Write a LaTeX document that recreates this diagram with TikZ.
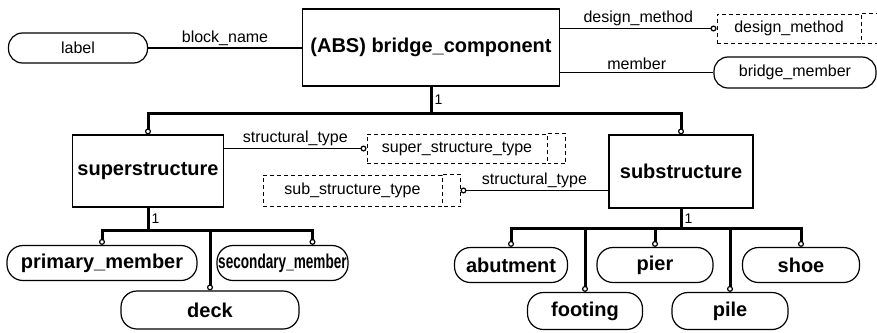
\documentclass[tikz,border=0pt]{standalone}
\usepackage{fontspec}
\setmainfont{Liberation Sans}
\usetikzlibrary{arrows.meta}

\tikzset{
  ring/.tip={Circle[open,length=6pt,width=6pt,line width=1.2pt]},
  entity/.style={draw,rectangle,line width=1.2pt,font=\fontsize{20}{23}\selectfont\bfseries},
  oval/.style={draw,rectangle,rounded corners=16pt,line width=1.2pt,inner xsep=2pt,minimum height=35pt,font=\fontsize{20}{23}\selectfont\bfseries},
  simple/.style={draw,rectangle,rounded corners=14pt,line width=1.2pt,minimum height=30pt,font=\fontsize{16}{18}\selectfont},
  deftype/.style={draw,dash pattern=on 4pt off 3pt,line width=1pt,minimum height=29pt,font=\fontsize{16}{18}\selectfont,
    append after command={\pgfextra{\draw[line width=1pt,dash pattern=on 4pt off 3pt]
      (\tikzlastnode.north east) -- ++(18pt,0) |- (\tikzlastnode.south east);}}},
  attr/.style={line width=1.1pt},
  isa/.style={line width=3pt},
  role/.style={font=\fontsize{16}{18}\selectfont,inner sep=2pt},
  card/.style={font=\fontsize{14}{16}\selectfont,inner sep=2pt}
}

\begin{document}
\begin{tikzpicture}[x=1pt,y=-1pt]
\useasboundingbox (0,0) rectangle (877,332);

% entities
\node[entity,minimum width=257pt,minimum height=77pt] (comp) at (431,47.5) {(ABS) bridge\_component};
\node[entity,minimum width=151pt,minimum height=72pt] (sup) at (148,171) {superstructure};
\node[entity,minimum width=144pt,minimum height=73pt] (subs) at (681,171.5) {substructure};

% simple types and defined types
\node[simple,minimum width=139pt] (lbl) at (78,48) {label};
\node[simple,minimum width=162pt,minimum height=31pt] (bmem) at (795,72.5) {bridge\_member};
\node[deftype,minimum width=144pt] (dmeth) at (789,28.5) {design\_method};
\node[deftype,minimum width=180pt] (sst) at (457,148.5) {super\_structure\_type};
\node[deftype,minimum width=179pt,minimum height=31pt] (sbt) at (352.5,190.5) {sub\_structure\_type};

% subtypes
\node[oval,minimum width=190pt] (prim) at (102,263) {primary\_member};
\node[oval,minimum width=131pt,inner xsep=0pt] (sec) at (282.5,263) {\scalebox{0.68}[1]{secondary\_member}};
\node[oval,minimum width=178pt,minimum height=38pt] (deck) at (210,310) {deck};
\node[oval,minimum width=113pt] (abut) at (511,265) {abutment};
\node[oval,minimum width=116pt] (pier) at (655,265) {pier};
\node[oval,minimum width=117pt] (shoe) at (801,265) {shoe};
\node[oval,minimum width=115pt,minimum height=37pt] (foot) at (585,311) {footing};
\node[oval,minimum width=116pt,minimum height=37pt] (pile) at (730,311) {pile};

% attributes
\draw[attr] (lbl.east) -- node[role,above] (bname) {block\_name} (lbl.east -| comp.west);
\draw[attr,-ring] (dmeth.west -| comp.east) -- node[role,above] (dmlab) {design\_method} (dmeth.west);
\draw[attr] (bmem.west -| comp.east) -- node[role,above] (mlab) {member} (bmem.west);
\draw[attr,-ring] (sst.west -| sup.east) -- node[role,above] (stlab1) {structural\_type} (sst.west);
\draw[attr,-ring] (sbt.east -| subs.west) -- node[role,above] (stlab2) {structural\_type} ([xshift=18pt]sbt.east);

% supertype tree
\coordinate (topbus) at (0,113);
\draw[isa] (comp.south) -- node[card,right] (one1) {1} (comp.south |- topbus);
\draw[isa,{ring}-{ring}] (sup.north) |- (comp.south |- topbus) -| (subs.north);

\coordinate (supbus) at (0,230);
\draw[isa] (sup.south) -- node[card,right] (one2) {1} (sup.south |- supbus);
\draw[isa,{ring}-{ring}] (prim.north) |- (sup.south |- supbus) -| ([xshift=30pt]sec.north);
\draw[isa,-ring] (deck.north |- supbus) -- (deck.north);

\coordinate (subbus) at (0,228);
\draw[isa] (subs.south) -- node[card,right] (one3) {1} (subs.south |- subbus);
\draw[isa,{ring}-{ring}] (abut.north) |- (subs.south |- subbus) -| (shoe.north);
\foreach \c in {foot,pier,pile}
  \draw[isa,-ring] (\c.north |- subbus) -- (\c.north);
\end{tikzpicture}
\end{document}
